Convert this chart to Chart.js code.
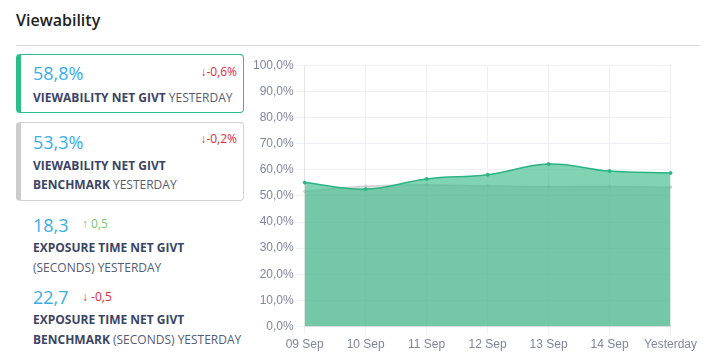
<!DOCTYPE html>
<html><head><meta charset="utf-8">
<script src="https://cdn.jsdelivr.net/npm/chart.js@4"></script>
<style>
html,body{margin:0;padding:0;background:#fff;width:716px;height:364px;overflow:hidden;font-family:"Open Sans",sans-serif;}
.abs{position:absolute;white-space:nowrap;}
.title{left:16px;top:12px;font-size:16px;line-height:16px;font-weight:600;color:#222;}
.rule{left:16px;top:45px;width:684px;height:1px;background:#dcdcdc;}
.box{position:absolute;left:16px;width:228px;border:1px solid;border-left-width:5px;border-radius:4px;box-sizing:border-box;}
.big{font-size:18px;line-height:18px;color:#3aaee6;}
.small{font-size:12px;line-height:12px;}
.red{color:#e5293a;}
.grn{color:#77c46f;}
.lbl{font-size:12px;line-height:12px;color:#555d75;}
.lbl b{color:#3b4466;font-weight:700;}
#wrap{position:absolute;left:250px;top:55px;width:450px;height:300px;}
</style></head>
<body>
<div class="abs title">Viewability</div>
<div class="abs rule"></div>
<div class="box" style="top:54px;height:59px;border-color:#2dbd8a;"></div>
<div class="box" style="top:122px;height:79px;border-color:#d2d2d2;border-left-color:#cccccc;"></div>

<div class="abs big" style="left:33px;top:64px;">58,8%</div>
<div class="abs small red" style="right:479px;top:66px;">↓-0,6%</div>
<div class="abs lbl" style="left:33px;top:92px;"><b>VIEWABILITY NET GIVT</b> YESTERDAY</div>

<div class="abs big" style="left:33px;top:133px;">53,3%</div>
<div class="abs small red" style="right:479px;top:133px;">↓-0,2%</div>
<div class="abs lbl" style="left:33px;top:160px;"><b>VIEWABILITY NET GIVT</b></div>
<div class="abs lbl" style="left:33px;top:179px;"><b>BENCHMARK</b> YESTERDAY</div>

<div class="abs big" style="left:33px;top:216px;">18,3</div>
<div class="abs small grn" style="left:82px;top:218px;">↑ 0,5</div>
<div class="abs lbl" style="left:33px;top:242px;"><b>EXPOSURE TIME NET GIVT</b></div>
<div class="abs lbl" style="left:33px;top:262px;">(SECONDS) YESTERDAY</div>

<div class="abs big" style="left:33px;top:288px;">22,7</div>
<div class="abs small red" style="left:82px;top:291px;">↓ -0,5</div>
<div class="abs lbl" style="left:33px;top:314px;"><b>EXPOSURE TIME NET GIVT</b></div>
<div class="abs lbl" style="left:33px;top:334px;"><b>BENCHMARK</b> (SECONDS) YESTERDAY</div>

<div id="wrap"><canvas id="c"></canvas></div>
<script>
const categories = ["09 Sep","10 Sep","11 Sep","12 Sep","13 Sep","14 Sep","Yesterday"];
const viewabilityNetGivt = [55.1, 52.6, 56.5, 58.1, 62.2, 59.5, 58.8];
const viewabilityBenchmark = [51.7, 53.7, 54.2, 53.8, 53.5, 53.6, 53.3];
const yTicks = {min:0, max:100, step:10};

new Chart(document.getElementById('c'), {
  type:'line',
  data:{
    labels:categories,
    datasets:[
      {label:'Viewability net GIVT', data:viewabilityNetGivt, borderColor:'#2ab383', backgroundColor:'rgba(43,183,130,0.6)',
       pointBackgroundColor:'#2ab383', pointBorderColor:'#2ab383', pointRadius:1.5, pointBorderWidth:1, borderWidth:1.5, tension:0.4, fill:'origin'},
      {label:'Benchmark', data:viewabilityBenchmark, borderColor:'#d2d2d2', backgroundColor:'rgba(200,200,200,0.55)',
       pointBackgroundColor:'#cdcdcd', pointBorderColor:'#cdcdcd', pointRadius:1.2, pointBorderWidth:1, borderWidth:1.5, tension:0.4, fill:'origin'}
    ]
  },
  options:{
    responsive:true, maintainAspectRatio:false, animation:false,
    plugins:{legend:{display:false}, tooltip:{enabled:false}},
    layout:{padding:{left:0,right:0,top:0,bottom:0}},
    scales:{
      x:{grid:{color:'#efeff7'}, border:{color:'#e4e4e4'},
         ticks:{color:'#7f859f', font:{size:12, family:'"Liberation Sans", Arial, sans-serif'}, maxRotation:0}},
      y:{min:yTicks.min, max:yTicks.max, grid:{color:'#efeff7'}, border:{color:'#e4e4e4'},
         ticks:{stepSize:yTicks.step, color:'#7f859f', font:{size:12, family:'"Liberation Sans", Arial, sans-serif'},
           callback:v=>v.toFixed(1).replace('.',',')+'%'}}
    }
  }
});
</script>
</body></html>
